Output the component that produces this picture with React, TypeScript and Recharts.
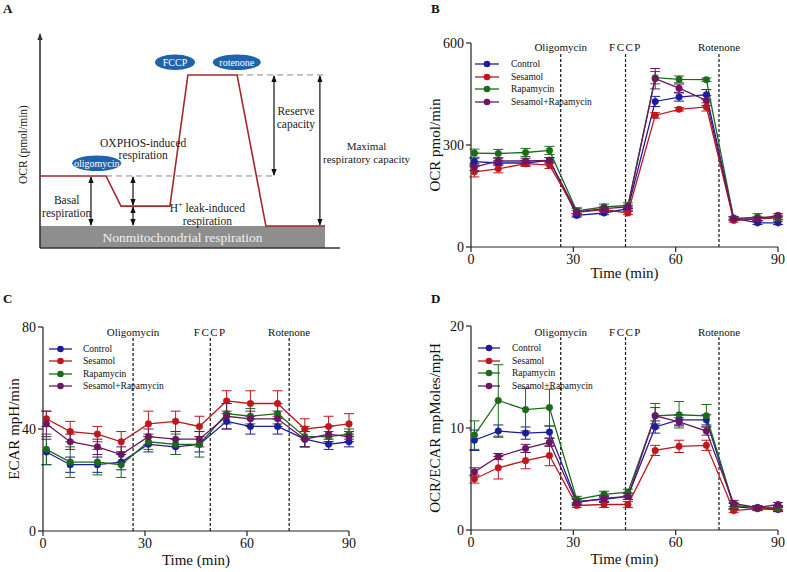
import React from 'react'
import {
  LineChart, Line, XAxis, YAxis, ErrorBar, ReferenceLine, ReferenceDot,
  ReferenceArea, Legend,
} from 'recharts'

const FONT = '"Liberation Serif", "Times New Roman", serif'

// reading times (min)
const times = [1, 8, 16, 23, 31, 39, 46, 54, 61, 69, 77, 84, 90]
const timeTicks = [0, 30, 60, 90]

const seriesKeys = ['control', 'sesamol', 'rapamycin', 'combo']
const seriesNames = ['Control', 'Sesamol', 'Rapamycin', 'Sesamol+Rapamycin']
const seriesColors = ['#1c1c9e', '#c0161e', '#1b6b1b', '#6b1660']

const injectionNames = ['Oligomycin', 'FCCP', 'Rotenone']
const injectionTimesOcr = [26.3, 45.3, 72.7]
const injectionTimesEcar = [26.5, 49.2, 72.4]

// B - OCR pmol/min
const ocrControl = [251, 247, 247, 255, 93, 100, 113, 428, 441, 448, 85, 71, 71]
const ocrSesamol = [221, 230, 245, 241, 102, 110, 100, 387, 405, 412, 78, 83, 86]
const ocrRapamycin = [276, 275, 278, 284, 106, 118, 122, 498, 493, 492, 84, 88, 86]
const ocrCombo = [235, 253, 253, 255, 103, 113, 118, 495, 467, 431, 83, 83, 93]
const ocrControlErr = [10, 8, 8, 8, 5, 5, 5, 15, 12, 15, 5, 5, 5]
const ocrSesamolErr = [15, 12, 8, 10, 5, 5, 5, 8, 5, 12, 5, 5, 5]
const ocrRapamycinErr = [12, 12, 12, 12, 8, 8, 8, 18, 10, 5, 5, 10, 5]
const ocrComboErr = [10, 8, 8, 8, 12, 5, 5, 30, 12, 15, 5, 5, 5]

// C - ECAR mpH/min
const ecarControl = [31, 26, 26, 27, 34, 33, 34, 43, 41, 41, 36, 34, 35]
const ecarSesamol = [44, 39, 38, 35, 42, 43, 41, 51, 50, 50, 40, 41, 42]
const ecarRapamycin = [32, 27, 27, 26, 35, 34, 34, 46, 45, 46, 37, 37, 38]
const ecarCombo = [42, 35, 33, 30, 37, 36, 36, 45, 44, 44, 36, 38, 37]
const ecarControlErr = [5, 3, 3, 3, 3, 3, 3, 3, 3, 3, 3, 2, 2]
const ecarSesamolErr = [3, 4, 3, 4, 5, 4, 4, 4, 5, 5, 4, 4, 4]
const ecarRapamycinErr = [6, 6, 5, 5, 3, 4, 5, 4, 3, 4, 4, 2, 2]
const ecarComboErr = [5, 3, 3, 3, 3, 3, 3, 5, 3, 3, 3, 3, 2]

// D - OCR/ECAR
const ratioControl = [8.8, 9.7, 9.5, 9.6, 2.8, 3.0, 3.3, 10.1, 10.8, 10.8, 2.3, 2.1, 2.0]
const ratioSesamol = [5.0, 6.1, 6.8, 7.3, 2.4, 2.5, 2.5, 7.8, 8.2, 8.3, 1.9, 2.1, 2.1]
const ratioRapamycin = [9.3, 12.7, 11.8, 12.0, 3.0, 3.5, 3.7, 11.2, 11.3, 11.2, 2.4, 2.2, 2.2]
const ratioCombo = [5.7, 7.2, 8.0, 8.6, 2.7, 3.1, 3.3, 11.2, 10.6, 9.7, 2.6, 2.2, 2.5]
const ratioControlErr = [1, 0.6, 0.6, 0.6, 0.3, 0.3, 0.3, 0.6, 0.5, 0.5, 0.3, 0.2, 0.2]
const ratioSesamolErr = [0.4, 1.1, 0.8, 1.0, 0.2, 0.3, 0.3, 0.5, 0.6, 0.5, 0.2, 0.2, 0.2]
const ratioRapamycinErr = [1.4, 3.5, 2.1, 1.8, 0.3, 0.3, 0.3, 1.2, 1.3, 1.1, 0.3, 0.2, 0.2]
const ratioComboErr = [0.4, 0.3, 0.4, 0.4, 0.3, 0.3, 0.3, 0.8, 0.4, 0.4, 0.3, 0.2, 0.2]

// A - schematic trace (arbitrary units, 0-100 on both axes)
const schemeTime = [0, 22, 27, 43.3, 49.3, 65.7, 75.3, 95]
const schemeOcr = [33.5, 33.5, 19.5, 19.5, 80.5, 80.5, 10.2, 10.2]
const levelNonMito = 10.2
const levelLeak = 19.5
const levelBasal = 33.5
const levelMax = 80.5

function buildRows(values: number[][], errors: number[][]) {
  return times.map((t, i) => {
    const row: Record<string, number> = { t }
    seriesKeys.forEach((k, s) => {
      row[k] = values[s][i]
      row[k + 'Err'] = errors[s][i]
    })
    return row
  })
}

const ocrRows = buildRows(
  [ocrControl, ocrSesamol, ocrRapamycin, ocrCombo],
  [ocrControlErr, ocrSesamolErr, ocrRapamycinErr, ocrComboErr],
)
const ecarRows = buildRows(
  [ecarControl, ecarSesamol, ecarRapamycin, ecarCombo],
  [ecarControlErr, ecarSesamolErr, ecarRapamycinErr, ecarComboErr],
)
const ratioRows = buildRows(
  [ratioControl, ratioSesamol, ratioRapamycin, ratioCombo],
  [ratioControlErr, ratioSesamolErr, ratioRapamycinErr, ratioComboErr],
)
const schemeRows = schemeTime.map((x, i) => ({ x, ocr: schemeOcr[i] }))

const tickStyle = { fontSize: 14, fill: '#111', fontFamily: FONT }

function SeriesLegend({ rowH, lineW, gap }: { rowH: number; lineW: number; gap: number }) {
  return (
    <div style={{ fontFamily: FONT, fontSize: 9.5, color: '#111' }}>
      {seriesNames.map((name, i) => (
        <div key={name} style={{ display: 'flex', alignItems: 'center', height: rowH }}>
          <svg width={lineW} height={10} style={{ display: 'block' }}>
            <line x1={0} y1={5} x2={lineW} y2={5} stroke={seriesColors[i]} strokeWidth={1.3} />
            <circle cx={lineW / 2} cy={5} r={3.3} fill={seriesColors[i]} />
          </svg>
          <span style={{ marginLeft: gap, whiteSpace: 'nowrap' }}>{name}</span>
        </div>
      ))}
    </div>
  )
}

interface PanelProps {
  left: number
  top: number
  width: number
  height: number
  margin: { top: number; right: number; left: number; bottom: number }
  yAxisWidth: number
  xAxisHeight: number
  rows: Record<string, number>[]
  yMax: number
  yTicks: number[]
  yLabel: string
  yLabelX: number
  injTimes: number[]
  injLabelY: number
  injLineTop: number
  legendLeft: number
  legendTop: number
  legendRowH: number
  legendLineW: number
  legendGap: number
}

function SeahorsePanel(p: PanelProps) {
  return (
    <div style={{ position: 'absolute', left: p.left, top: p.top }}>
      <LineChart width={p.width} height={p.height} data={p.rows} margin={p.margin}>
        <XAxis
          dataKey="t" type="number" domain={[0, 90]} ticks={timeTicks}
          height={p.xAxisHeight} tickSize={5} stroke="#222" strokeWidth={1.2}
          tick={tickStyle}
          label={(lp: any) => {
            const vb = lp.viewBox || {}
            const x = (vb.x ?? 0) + (vb.width ?? 0) / 2
            const y = (vb.y ?? 0) + (vb.height ?? 0) - 4
            return (
              <text x={x} y={y} textAnchor="middle" fontSize={15} fill="#111" fontFamily={FONT}>Time (min)</text>
            )
          }}
        />
        <YAxis
          type="number" domain={[0, p.yMax]} ticks={p.yTicks} width={p.yAxisWidth}
          tickSize={5} stroke="#222" strokeWidth={1.2}
          tick={tickStyle}
          label={(lp: any) => {
            const vb = lp.viewBox || {}
            const x = (vb.x ?? 0) + p.yLabelX
            const y = (vb.y ?? 0) + (vb.height ?? 0) / 2
            return (
              <text x={x} y={y} transform={`rotate(-90 ${x} ${y})`} textAnchor="middle"
                dominantBaseline="central" fontSize={15} fill="#111" fontFamily={FONT}>
                {p.yLabel}
              </text>
            )
          }}
        />
        {p.injTimes.map((x) => (
          <ReferenceLine key={'l' + x} segment={[{ x, y: 0 }, { x, y: p.injLineTop }]}
            stroke="#111" strokeDasharray="3 2" strokeWidth={1.2} />
        ))}
        {p.injTimes.map((x, i) => (
          <ReferenceDot key={'d' + x} x={x} y={p.injLabelY}
            shape={(dp: any) => (
              <text x={dp.cx} y={dp.cy} textAnchor="middle" dominantBaseline="central"
                fontSize={11} fill="#111" fontFamily={FONT} letterSpacing={i === 1 ? 1.5 : 0}>
                {injectionNames[i]}
              </text>
            )}
          />
        ))}
        {seriesKeys.map((k, s) => (
          <Line key={k} dataKey={k} type="linear" stroke={seriesColors[s]} strokeWidth={1.3}
            dot={{ r: 3.3, fill: seriesColors[s], stroke: seriesColors[s], strokeWidth: 0.5 }}
            activeDot={false} isAnimationActive={false}>
            <ErrorBar dataKey={k + 'Err'} direction="y" width={5} stroke={seriesColors[s]} strokeWidth={1} />
          </Line>
        ))}
        <Legend
          layout="vertical" align="center" verticalAlign="middle"
          wrapperStyle={{ left: p.legendLeft, top: p.legendTop, width: 'auto', height: 'auto' }}
          content={() => <SeriesLegend rowH={p.legendRowH} lineW={p.legendLineW} gap={p.legendGap} />}
        />
      </LineChart>
    </div>
  )
}

function arrowShape(bothEnds: boolean, color: string, width: number) {
  return (lp: any) => {
    const x = lp.x1
    const top = Math.min(lp.y1, lp.y2)
    const bottom = Math.max(lp.y1, lp.y2)
    return (
      <g>
        <line x1={x} y1={top + 1} x2={x} y2={bottom - (bothEnds ? 1 : 0)} stroke={color} strokeWidth={width} />
        <path d={`M${x},${top} L${x - 2.6},${top + 7} L${x + 2.6},${top + 7} Z`} fill={color} />
        {bothEnds && <path d={`M${x},${bottom} L${x - 2.6},${bottom - 7} L${x + 2.6},${bottom - 7} Z`} fill={color} />}
      </g>
    )
  }
}

function noteShape(lines: React.ReactNode[], lh = 12.5, fontSize = 11.5) {
  return (dp: any) => (
    <text x={dp.cx} y={dp.cy - ((lines.length - 1) * lh) / 2} textAnchor="middle"
      dominantBaseline="central" fontSize={fontSize} fill="#1a1a1a" fontFamily={FONT}>
      {lines.map((l, i) => (
        <tspan key={i} x={dp.cx} dy={i === 0 ? 0 : lh}>{l}</tspan>
      ))}
    </text>
  )
}

function pillShape(name: string, rx: number) {
  return (dp: any) => (
    <g>
      <ellipse cx={dp.cx} cy={dp.cy} rx={rx} ry={7.8} fill="#1f63ad" />
      <text x={dp.cx} y={dp.cy} textAnchor="middle" dominantBaseline="central" fontSize={10}
        fill="#fff" fontFamily={FONT}>{name}</text>
    </g>
  )
}

function SchemePanel() {
  return (
    <div style={{ position: 'absolute', left: 0, top: 0 }}>
      <LineChart width={420} height={290} data={schemeRows} margin={{ top: 33, right: 80, left: 0, bottom: 42 }}>
        <XAxis dataKey="x" type="number" domain={[0, 100]} hide />
        <YAxis
          type="number" domain={[0, 100]} width={40} tick={false} axisLine={false} tickLine={false}
          label={(lp: any) => {
            const vb = lp.viewBox || {}
            const x = (vb.x ?? 0) + 23
            const y = (vb.y ?? 0) + (vb.height ?? 0) / 2 + 4
            return (
              <text x={x} y={y} transform={`rotate(-90 ${x} ${y})`} textAnchor="middle"
                dominantBaseline="central" fontSize={11.5} fill="#1a1a1a" fontFamily={FONT}>OCR (pmol/min)</text>
            )
          }}
        />
        <ReferenceArea x1={0} x2={95} y1={0} y2={levelNonMito} fill="#8e8e8e" fillOpacity={1} stroke="none"
          label={{ value: 'Nonmitochondrial respiration', position: 'center', fill: '#f2f2f2', fontSize: 13.5, fontFamily: FONT }} />
        <ReferenceLine segment={[{ x: 22, y: levelBasal }, { x: 78.3, y: levelBasal }]}
          stroke="#8a8a8a" strokeDasharray="6 4" strokeWidth={1} />
        <ReferenceLine segment={[{ x: 65.7, y: levelMax }, { x: 95, y: levelMax }]}
          stroke="#8a8a8a" strokeDasharray="6 4" strokeWidth={1} />
        <ReferenceLine segment={[{ x: 0, y: 0 }, { x: 0, y: 100 }]} shape={arrowShape(false, '#333', 1.6)} />
        <ReferenceLine segment={[{ x: 0, y: 0 }, { x: 100, y: 0 }]} stroke="#333" strokeWidth={1.6} />
        <ReferenceLine segment={[{ x: 17, y: levelNonMito }, { x: 17, y: levelBasal }]} shape={arrowShape(true, '#111', 1.2)} />
        <ReferenceLine segment={[{ x: 31, y: levelLeak }, { x: 31, y: levelBasal }]} shape={arrowShape(true, '#111', 1.2)} />
        <ReferenceLine segment={[{ x: 31, y: levelNonMito }, { x: 31, y: levelLeak }]} shape={arrowShape(true, '#111', 1.2)} />
        <ReferenceLine segment={[{ x: 78, y: levelBasal }, { x: 78, y: levelMax }]} shape={arrowShape(true, '#111', 1.2)} />
        <ReferenceLine segment={[{ x: 93.3, y: levelNonMito }, { x: 93.3, y: levelMax }]} shape={arrowShape(true, '#111', 1.2)} />
        <Line dataKey="ocr" type="linear" stroke="#a3282c" strokeWidth={1.6} dot={false} activeDot={false} isAnimationActive={false} />
        <ReferenceDot x={18.9} y={39.4} shape={pillShape('oligomycin', 24.5)} />
        <ReferenceDot x={45} y={86.4} shape={pillShape('FCCP', 20)} />
        <ReferenceDot x={65.6} y={86.4} shape={pillShape('rotenone', 24)} />
        <ReferenceDot x={8.9} y={19.4} shape={noteShape(['Basal', 'respiration'])} />
        <ReferenceDot x={34.4} y={46.1} shape={noteShape(['OXPHOS-induced', 'respiration'])} />
        <ReferenceDot x={55.8} y={15.6} shape={noteShape([
          <>H<tspan dy={-4.5} fontSize={8}>+</tspan><tspan dy={4.5}> leak-induced</tspan></>,
          'respiration',
        ])} />
        <ReferenceDot x={85.3} y={60.8} shape={noteShape(['Reserve', 'capacity'])} />
        <ReferenceDot x={99.5} y={44.4} ifOverflow="visible"
          shape={(dp: any) => noteShape(['Maximal', 'respiratory capacity'], 13.5, 11)({ cx: dp.cx + 28, cy: dp.cy })} />
      </LineChart>
    </div>
  )
}

const letterStyle: React.CSSProperties = {
  position: 'absolute', fontFamily: FONT, fontWeight: 'bold', fontSize: 13, lineHeight: '13px', color: '#111',
}

export default function App() {
  return (
    <div style={{ position: 'fixed', left: 0, top: 0, width: 787, height: 572, background: '#fff', fontFamily: FONT }}>
      <div style={{ ...letterStyle, left: 3, top: 2 }}>A</div>
      <div style={{ ...letterStyle, left: 431, top: 2 }}>B</div>
      <div style={{ ...letterStyle, left: 3, top: 292 }}>C</div>
      <div style={{ ...letterStyle, left: 431, top: 292 }}>D</div>
      <SchemePanel />
      <SeahorsePanel
        left={420} top={0} width={367} height={290}
        margin={{ top: 43, right: 9, left: 0, bottom: 8 }} yAxisWidth={51} xAxisHeight={35}
        rows={ocrRows} yMax={600} yTicks={[0, 300, 600]} yLabel="OCR pmol/min" yLabelX={15}
        injTimes={injectionTimesOcr} injLabelY={588} injLineTop={573}
        legendLeft={55} legendTop={57.7} legendRowH={12.7} legendLineW={24} legendGap={12}
      />
      <SeahorsePanel
        left={0} top={290} width={360} height={282}
        margin={{ top: 37, right: 11, left: 0, bottom: 3 }} yAxisWidth={43} xAxisHeight={38}
        rows={ecarRows} yMax={80} yTicks={[0, 40, 80]} yLabel="ECAR mpH/min" yLabelX={14}
        injTimes={injectionTimesEcar} injLabelY={78} injLineTop={76}
        legendLeft={49} legendTop={52.7} legendRowH={12.5} legendLineW={23} legendGap={11}
      />
      <SeahorsePanel
        left={420} top={290} width={367} height={282}
        margin={{ top: 36, right: 9, left: 0, bottom: 4 }} yAxisWidth={51} xAxisHeight={38}
        rows={ratioRows} yMax={20} yTicks={[0, 10, 20]} yLabel="OCR/ECAR mpMoles/mpH" yLabelX={15}
        injTimes={injectionTimesOcr} injLabelY={19.4} injLineTop={18.9}
        legendLeft={58} legendTop={51.7} legendRowH={12.7} legendLineW={22} legendGap={12}
      />
    </div>
  )
}
